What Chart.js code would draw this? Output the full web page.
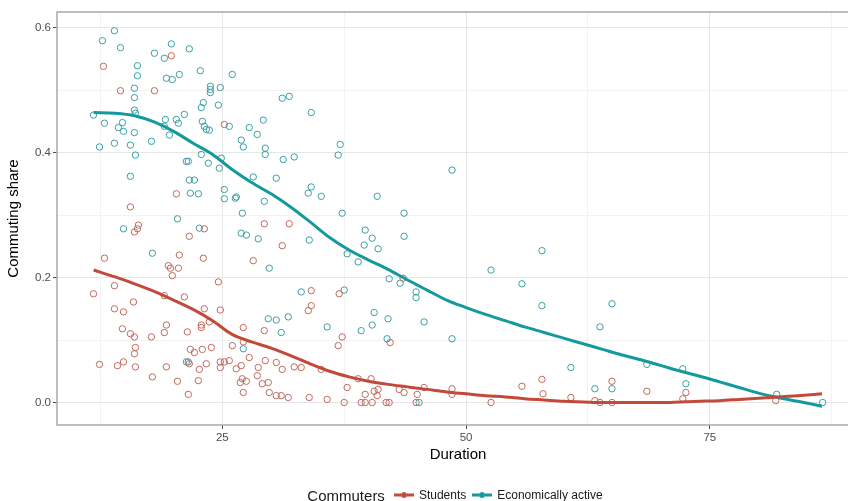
<!DOCTYPE html>
<html>
<head>
<meta charset="utf-8">
<title>Commuting share by duration</title>
<script src="https://cdn.jsdelivr.net/npm/chart.js@4.4.1/dist/chart.umd.min.js"></script>
<style>
  html, body { margin: 0; padding: 0; background: #fff; }
  #wrap { position: relative; width: 848px; height: 501px; overflow: hidden; }
  #legend {
    position: absolute; left: 0; top: 485px; width: 916px; height: 20px;
    display: flex; justify-content: center; align-items: center;
    font-family: "Liberation Sans", Arial, sans-serif; color: #1a1a1a; white-space: nowrap;
  }
  #legend .ttl { font-size: 15px; margin-right: 9px; }
  #legend .lab { font-size: 12px; margin-left: 5px; margin-right: 6px; }
</style>
</head>
<body>
<div id="wrap">
  <canvas id="myChart" width="870" height="501"></canvas>
  <div id="legend">
    <span class="ttl">Commuters</span>
    <svg width="20" height="10"><line x1="0" y1="5" x2="20" y2="5" stroke="#c34a3b" stroke-width="3"/><circle cx="10" cy="5" r="2.6" fill="#c34a3b" stroke="#c06a5e"/></svg>
    <span class="lab">Students</span>
    <svg width="20" height="10"><line x1="0" y1="5" x2="20" y2="5" stroke="#14999c" stroke-width="3"/><circle cx="10" cy="5" r="2.6" fill="#14999c" stroke="#3a9fa2"/></svg>
    <span class="lab">Economically active</span>
  </div>
</div>
<script>
// students (red)
const studentDuration = [
  12.8, 14.55, 18.03, 19.77, 25.2, 20.28, 15.57, 16.39, 16.29, 15.98,
  21.61, 23.15, 12.91, 20.59, 23.05, 19.46, 19.67, 20.49, 19.87, 13.93,
  11.78, 15.88, 13.93, 14.86, 19.05, 21.1, 23.15, 22.84, 22.84, 23.66,
  14.75, 15.57, 15.98, 17.72, 19.26, 19.05, 21.41, 16.08, 15.98, 21.72,
  22.13, 22.95, 23.87, 21.61, 23.36, 12.4, 14.24, 14.86, 16.08, 19.26,
  22.64, 17.82, 20.39, 22.54, 21.51, 24.59, 24.79, 24.79, 24.79, 25.2,
  25.71, 26.02, 26.43, 26.94, 27.05, 26.84, 27.46, 27.15, 27.15, 27.15,
  27.76, 28.17, 28.58, 28.68, 29.09, 29.71, 29.3, 29.4, 29.81, 30.53,
  30.53, 31.04, 31.14, 31.76, 31.14, 29.3, 31.86, 32.37, 33.09, 34.12,
  33.81, 34.12, 36.98, 37.29, 36.88, 35.14, 33.91, 35.75, 37.5, 38.93,
  40.26, 37.8, 39.65, 40.57, 40.98, 40.88, 39.24, 39.65, 40.37, 41.8,
  42.11, 42.21, 43.54, 43.13, 43.64, 44.98, 44.87, 45.69, 48.56, 48.56,
  52.56, 55.73, 57.78, 57.89, 60.75, 63.21, 63.73, 64.96, 64.96, 68.54, 72.23, 72.54, 81.76
];
const studentShare = [
  0.538, 0.499, 0.499, 0.555, 0.445, 0.334, 0.313, 0.284, 0.278, 0.273,
  0.266, 0.278, 0.231, 0.236, 0.231, 0.219, 0.215, 0.215, 0.203, 0.187,
  0.174, 0.161, 0.150, 0.145, 0.171, 0.169, 0.150, 0.124, 0.120, 0.129,
  0.118, 0.110, 0.105, 0.105, 0.124, 0.112, 0.113, 0.088, 0.078, 0.085,
  0.080, 0.085, 0.088, 0.062, 0.062, 0.061, 0.059, 0.065, 0.057, 0.057,
  0.053, 0.041, 0.034, 0.035, 0.013, 0.193, 0.148, 0.056, 0.065, 0.065,
  0.067, 0.091, 0.054, 0.059, 0.038, 0.032, 0.034, 0.016, 0.097, 0.120,
  0.072, 0.227, 0.043, 0.056, 0.030, 0.032, 0.115, 0.067, 0.016, 0.064,
  0.011, 0.011, 0.053, 0.008, 0.251, 0.286, 0.286, 0.057, 0.056, 0.179,
  0.147, 0.155, 0.174, 0.105, 0.091, 0.053, 0.008, 0.005, 0.000, 0.038,
  0.038, 0.024, 0.013, 0.018, 0.021, 0.011, 0.000, 0.000, 0.000, 0.000,
  0.000, 0.096, 0.199, 0.021, 0.016, 0.013, 0.000, 0.024, 0.022, 0.013,
  0.000, 0.026, 0.037, 0.014, 0.008, 0.003, 0.000, 0.034, 0.000, 0.018, 0.006, 0.016, 0.003
];

// economically active (teal)
const workerDuration = [
  12.7, 13.93, 14.55, 11.78, 12.4, 12.91, 13.93, 14.34, 14.75, 14.86,
  16.29, 16.29, 15.98, 15.98, 15.98, 16.08, 15.98, 15.57, 16.08, 15.57,
  17.72, 18.03, 19.05, 19.26, 19.87, 20.59, 19.77, 21.61, 22.74, 26.02,
  23.77, 23.77, 23.77, 24.79, 23.05, 22.84, 24.59, 19.16, 20.28, 20.49,
  21.1, 19.05, 19.57, 22.95, 23.15, 23.36, 23.66, 25.71, 27.76, 28.58,
  29.2, 26.94, 27.15, 29.4, 29.4, 31.25, 32.37, 31.14, 31.86,
  34.12, 37.09, 36.88, 28.17, 30.53, 25.2, 25.2, 26.43, 29.3, 34.12,
  33.81, 35.14, 40.88, 24.89, 24.69, 21.31, 21.51, 22.84, 23.56, 21.61,
  22.13, 21.72, 22.54, 26.33, 27.05, 20.39, 14.86, 22.64, 26.94, 27.46,
  28.68, 17.82, 37.29, 33.91, 29.81, 33.09, 37.5, 29.71, 30.53, 31.76,
  31.04, 35.75, 39.65, 40.37, 39.55, 40.98, 37.8, 38.93, 42.11, 43.23,
  40.57, 40.37, 39.24, 42.0, 41.9, 43.64, 43.64, 44.87, 44.87, 45.69,
  48.56, 48.56, 52.56, 55.73, 57.78, 57.78, 64.96, 63.73, 60.75, 68.54,
  72.23, 72.54, 63.21, 64.96, 81.86, 86.57, 45.18, 27.15, 21.31, 21.51
];
const workerShare = [
  0.579, 0.595, 0.568, 0.460, 0.409, 0.447, 0.415, 0.440, 0.448, 0.434,
  0.539, 0.523, 0.503, 0.488, 0.468, 0.463, 0.432, 0.412, 0.396, 0.362,
  0.418, 0.559, 0.551, 0.519, 0.517, 0.525, 0.574, 0.566, 0.531, 0.525,
  0.506, 0.501, 0.496, 0.504, 0.480, 0.472, 0.476, 0.453, 0.453, 0.447,
  0.461, 0.442, 0.428, 0.450, 0.442, 0.437, 0.436, 0.442, 0.440, 0.429,
  0.452, 0.420, 0.409, 0.407, 0.397, 0.389, 0.393, 0.487, 0.490,
  0.464, 0.413, 0.396, 0.361, 0.359, 0.341, 0.326, 0.329, 0.322, 0.345,
  0.335, 0.330, 0.330, 0.391, 0.375, 0.386, 0.386, 0.397, 0.383, 0.356,
  0.356, 0.335, 0.334, 0.327, 0.303, 0.294, 0.278, 0.279, 0.271, 0.268,
  0.262, 0.239, 0.303, 0.260, 0.215, 0.177, 0.180, 0.134, 0.132, 0.137,
  0.112, 0.121, 0.276, 0.263, 0.252, 0.246, 0.238, 0.225, 0.198, 0.191,
  0.144, 0.124, 0.115, 0.134, 0.102, 0.303, 0.266, 0.177, 0.168, 0.129,
  0.102, 0.372, 0.212, 0.190, 0.243, 0.155, 0.158, 0.121, 0.056, 0.061,
  0.054, 0.030, 0.022, 0.022, 0.013, 0.000, 0.000, 0.086, 0.065, 0.065
];

// loess-style smooth curves
const smoothDuration = [11.8, 14, 16, 18, 20, 22, 24, 26, 28, 30, 32, 34, 36, 38, 40, 42, 44, 46, 48, 50,
  52, 54, 56, 58, 60, 62, 64, 66, 68, 70, 72, 74, 76, 78, 80, 82, 84, 86.5];
const studentSmooth = [0.212, 0.201, 0.190, 0.178, 0.164, 0.149, 0.131, 0.109, 0.097, 0.087, 0.075, 0.062, 0.050,
  0.041, 0.034, 0.029, 0.025, 0.021, 0.017, 0.014, 0.011, 0.009, 0.006, 0.004, 0.002, 0.001, 0.000, 0.000,
  0.000, 0.000, 0.001, 0.002, 0.003, 0.005, 0.007, 0.009, 0.011, 0.014];
const workerSmooth = [0.464, 0.463, 0.459, 0.449, 0.434, 0.415, 0.397, 0.373, 0.352, 0.334, 0.313, 0.289, 0.264,
  0.244, 0.228, 0.213, 0.196, 0.180, 0.164, 0.152, 0.141, 0.131, 0.121, 0.112, 0.103, 0.094, 0.085, 0.076,
  0.068, 0.059, 0.050, 0.042, 0.033, 0.024, 0.015, 0.008, 0.002, -0.006];

const xMajorTicks = [25, 50, 75];
const xMinorTicks = [12.5, 37.5, 62.5, 87.5];
const yMajorTicks = [0, 0.2, 0.4, 0.6];
const yMinorTicks = [0.1, 0.3, 0.5];

const xMin = 8.04, xMax = 90.3;
const yMin = -0.036, yMax = 0.625;

const RED_PT = '#c0695d', RED_LINE = '#c34a3b';
const TEAL_PT = '#3a9fa2', TEAL_LINE = '#14999c';

Chart.defaults.font.family = '"Liberation Sans", Arial, sans-serif';

const pairs = (xs, ys) => xs.map((x, i) => ({ x: x, y: ys[i] }));
const isMajor = (list, v) => list.some(m => Math.abs(m - v) < 1e-9);

const panelBorder = {
    id: 'panelBorder',
    afterDatasetsDraw(chart) {
        const { ctx, chartArea: a } = chart;
        ctx.save();
        ctx.strokeStyle = '#a3a3a3';
        ctx.lineWidth = 1.4;
        ctx.strokeRect(a.left, a.top, a.right - a.left, a.bottom - a.top);
        ctx.restore();
    }
};

const ctx = document.getElementById('myChart').getContext('2d');
const myChart = new Chart(ctx, {
    type: 'scatter',
    data: {
        datasets: [
            {
                type: 'line',
                label: 'Students (smooth)',
                data: pairs(smoothDuration, studentSmooth),
                borderColor: RED_LINE,
                borderWidth: 3,
                pointRadius: 0,
                fill: false,
                cubicInterpolationMode: 'monotone',
                order: 0
            },
            {
                type: 'line',
                label: 'Economically active (smooth)',
                data: pairs(smoothDuration, workerSmooth),
                borderColor: TEAL_LINE,
                borderWidth: 3,
                pointRadius: 0,
                fill: false,
                cubicInterpolationMode: 'monotone',
                order: 0
            },
            {
                label: 'Students',
                data: pairs(studentDuration, studentShare),
                borderColor: RED_PT,
                backgroundColor: 'rgba(0,0,0,0)',
                pointRadius: 3.2,
                pointBorderWidth: 1,
                order: 1
            },
            {
                label: 'Economically active',
                data: pairs(workerDuration, workerShare),
                borderColor: TEAL_PT,
                backgroundColor: 'rgba(0,0,0,0)',
                pointRadius: 3.2,
                pointBorderWidth: 1,
                order: 1
            }
        ]
    },
    options: {
        responsive: false,
        animation: false,
        layout: { padding: { top: 12, right: 11, bottom: 31, left: 0 } },
        plugins: {
            legend: { display: false },
            tooltip: { enabled: false }
        },
        scales: {
            x: {
                type: 'linear',
                min: xMin,
                max: xMax,
                afterBuildTicks: s => {
                    s.ticks = [...xMajorTicks, ...xMinorTicks].sort((a, b) => a - b).map(v => ({ value: v }));
                },
                afterFit: s => { s.height = 45; },
                ticks: {
                    autoSkip: false,
                    maxRotation: 0,
                    padding: 2,
                    color: '#4d4d4d',
                    font: { size: 11.5 },
                    callback: v => isMajor(xMajorTicks, v) ? String(v) : ''
                },
                grid: {
                    color: c => isMajor(xMajorTicks, c.tick.value) ? '#e6e6e6' : '#f2f2f2',
                    lineWidth: 1,
                    tickLength: 4,
                    tickColor: c => isMajor(xMajorTicks, c.tick.value) ? '#4d4d4d' : 'rgba(0,0,0,0)'
                },
                border: { display: false },
                title: {
                    display: true,
                    text: 'Duration',
                    color: '#000',
                    font: { size: 15 },
                    padding: { top: 0, bottom: 6 }
                }
            },
            y: {
                type: 'linear',
                min: yMin,
                max: yMax,
                afterBuildTicks: s => {
                    s.ticks = [...yMajorTicks, ...yMinorTicks].sort((a, b) => a - b).map(v => ({ value: v }));
                },
                afterFit: s => { s.width = 57; },
                ticks: {
                    autoSkip: false,
                    padding: 2,
                    color: '#4d4d4d',
                    font: { size: 11.5 },
                    callback: v => isMajor(yMajorTicks, v) ? v.toFixed(1) : ''
                },
                grid: {
                    color: c => isMajor(yMajorTicks, c.tick.value) ? '#e6e6e6' : '#f2f2f2',
                    lineWidth: 1,
                    tickLength: 4,
                    tickColor: c => isMajor(yMajorTicks, c.tick.value) ? '#4d4d4d' : 'rgba(0,0,0,0)'
                },
                border: { display: false },
                title: {
                    display: true,
                    text: 'Commuting share',
                    color: '#000',
                    font: { size: 15 },
                    padding: { top: 5, bottom: 0 }
                }
            }
        }
    },
    plugins: [panelBorder]
});
</script>
</body>
</html>
